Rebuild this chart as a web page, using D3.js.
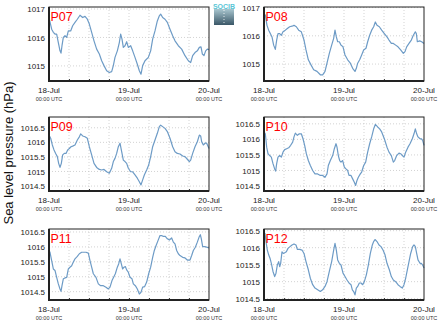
<!DOCTYPE html>
<html><head><meta charset="utf-8">
<script src="https://cdn.jsdelivr.net/npm/d3@7"></script>
<style>
html,body{margin:0;padding:0;background:#fff;}
svg{display:block;font-family:"Liberation Sans",Arial,sans-serif;}
</style></head><body>
<svg id="chart" width="442" height="327"></svg>
<script>
// ---- data (hours since 18-Jul 00:00 UTC, sea level pressure hPa) ----
const stations = ["P07","P08","P09","P10","P11","P12"];
const dayLabels = ["18-Jul","19-Jul","20-Jul"];
const timeLabel = "00:00 UTC";
const yLabel = "Sea level pressure (hPa)";
const yTicksA = [1015,1016,1017];
const yTicksB = [1014.5,1015,1015.5,1016,1016.5];

const hP07 = [0,0.8,1.3,1.8,2.3,2.8,3.3,3.6,3.9,4.3,4.8,5.3,5.8,6.5,7.1,7.8,8.5,9.3,10.1,10.8,11.5,12.1,12.8,13.5,14.3,15.1,15.8,16.5,17.3,18.1,18.8,19.3,19.8,20.5,21.1,21.5,21.9,22.3,22.8,23.3,23.8,24.5,25.1,25.8,26.5,27.1,27.6,28.1,28.8,29.8,30.5,31.1,31.8,32.5,33.1,33.5,34.1,34.8,35.5,36.3,37.1,37.8,38.8,39.8,40.8,41.8,42.5,43.1,43.8,44.5,45.1,45.6,46.0,46.5,47.0,47.5,48.0];
const vP07 = [1016.70,1016.29,1016.18,1016.12,1016.12,1015.82,1015.53,1015.45,1015.71,1016.00,1016.06,1016.00,1016.23,1016.23,1016.41,1016.53,1016.64,1016.78,1016.70,1016.74,1016.64,1016.47,1016.18,1015.88,1015.59,1015.42,1015.18,1015.01,1014.83,1014.77,1014.80,1015.01,1015.30,1015.53,1015.82,1016.12,1015.94,1015.65,1015.71,1015.85,1015.65,1015.71,1015.53,1015.30,1015.06,1014.83,1014.71,1015.01,1015.18,1015.30,1015.53,1015.94,1016.23,1016.58,1016.76,1016.82,1016.70,1016.64,1016.53,1016.29,1016.06,1015.88,1015.71,1015.59,1015.36,1015.18,1015.12,1015.36,1015.47,1015.53,1015.65,1015.67,1015.42,1015.36,1015.53,1015.59,1015.57];

const hP08 = [0,0.4,0.9,1.4,1.9,2.4,2.9,3.4,3.8,4.2,4.7,5.2,5.7,6.4,7.0,7.7,8.4,9.0,9.7,10.4,11.2,12.0,12.6,13.3,14.1,14.9,15.9,16.9,17.6,18.3,18.9,19.6,20.3,20.9,21.3,21.7,22.1,22.6,23.1,23.7,24.3,25.1,25.9,26.6,27.3,27.7,28.1,28.7,29.3,29.9,30.6,31.1,31.7,32.3,32.9,33.4,33.9,34.6,35.3,36.1,36.9,37.5,38.2,38.8,39.5,40.2,41.0,41.8,42.3,42.8,43.5,44.2,44.8,45.4,45.7,46.0,46.7,47.3,48];
const vP08 = [1016.78,1016.73,1016.37,1016.20,1016.08,1015.96,1015.67,1015.52,1015.85,1016.08,1016.08,1016.02,1016.14,1016.20,1016.26,1016.32,1016.34,1016.37,1016.32,1016.20,1016.14,1015.85,1015.50,1015.15,1014.97,1014.80,1014.74,1014.62,1014.62,1014.74,1015.03,1015.38,1015.67,1015.91,1016.20,1015.96,1015.79,1015.79,1015.67,1015.61,1015.32,1015.15,1015.03,1014.85,1014.74,1014.85,1015.03,1015.15,1015.32,1015.50,1015.56,1015.79,1016.02,1016.20,1016.32,1016.49,1016.37,1016.32,1016.20,1016.08,1015.96,1015.85,1015.73,1015.73,1015.67,1015.61,1015.50,1015.38,1015.44,1015.61,1015.73,1015.85,1016.02,1016.14,1016.08,1015.79,1015.82,1015.79,1015.73];

const hP09 = [0,0.5,1.0,1.5,2.0,2.5,2.9,3.3,3.7,4.1,4.6,5.1,5.6,6.1,6.6,7.1,7.8,8.5,9.1,9.5,10.1,10.8,11.5,12.1,12.8,13.5,14.3,15.1,15.8,16.5,17.3,18.1,18.8,19.3,19.8,20.3,20.8,21.3,21.8,22.3,22.8,23.3,23.8,24.5,25.1,25.8,26.5,27.1,27.6,28.1,28.6,29.3,29.9,30.5,31.1,31.8,32.5,33.1,33.5,34.1,34.8,35.5,36.3,37.1,37.8,38.5,39.3,40.1,40.8,41.5,42.1,42.5,43.1,43.8,44.5,45.1,45.5,45.8,46.3,46.8,47.3,48];
const vP09 = [1016.25,1016.14,1015.91,1015.74,1015.62,1015.51,1015.28,1015.14,1015.28,1015.57,1015.62,1015.62,1015.74,1015.79,1015.85,1015.87,1015.91,1016.08,1016.19,1016.29,1016.22,1016.19,1016.14,1015.85,1015.57,1015.28,1015.14,1015.07,1015.05,1015.07,1014.99,1014.94,1015.11,1015.34,1015.45,1015.62,1015.85,1015.97,1015.68,1015.39,1015.34,1015.28,1015.11,1014.99,1014.99,1014.88,1014.77,1014.65,1014.54,1014.71,1014.88,1015.05,1015.22,1015.51,1015.85,1016.08,1016.31,1016.54,1016.59,1016.54,1016.48,1016.37,1016.14,1015.85,1015.68,1015.62,1015.60,1015.53,1015.51,1015.42,1015.34,1015.39,1015.62,1015.85,1016.02,1016.25,1016.22,1016.02,1015.91,1015.97,1015.97,1015.79];

const hP10 = [0,0.4,0.8,1.2,1.7,2.2,2.7,3.2,3.5,3.8,4.2,4.7,5.2,5.7,6.2,6.8,7.4,8.0,8.6,9.0,9.4,10.0,10.6,11.2,11.7,12.2,12.7,13.3,13.9,14.6,15.3,16.1,16.9,17.6,18.3,18.9,19.3,19.9,20.6,21.1,21.6,21.9,22.3,22.7,23.1,23.6,24.1,24.6,25.1,25.5,26.1,26.6,27.1,27.5,27.9,28.3,28.9,29.3,29.9,30.5,31.1,31.7,32.3,32.9,33.4,34.1,34.7,35.3,36.1,36.9,37.5,38.2,38.8,39.2,39.8,40.5,41.0,41.5,42.0,42.5,43.2,43.8,44.5,45.0,45.4,45.8,46.2,46.8,47.2,47.6,48];
const vP10 = [1016.24,1016.18,1015.75,1015.54,1015.48,1015.43,1015.22,1015.05,1014.98,1015.22,1015.43,1015.48,1015.43,1015.59,1015.67,1015.70,1015.73,1015.81,1015.91,1016.08,1016.20,1016.13,1016.18,1016.18,1016.02,1015.81,1015.54,1015.32,1015.16,1015.00,1014.89,1014.89,1014.84,1014.84,1014.78,1014.89,1015.16,1015.32,1015.48,1015.70,1015.86,1015.75,1015.48,1015.32,1015.27,1015.32,1015.11,1015.05,1015.00,1014.84,1014.84,1014.73,1014.62,1014.52,1014.68,1014.78,1014.89,1014.95,1015.16,1015.27,1015.59,1015.86,1016.08,1016.34,1016.48,1016.40,1016.34,1016.24,1016.02,1015.75,1015.59,1015.48,1015.27,1015.32,1015.48,1015.56,1015.54,1015.48,1015.43,1015.59,1015.75,1015.86,1016.02,1016.18,1016.34,1016.18,1016.08,1016.02,1016.02,1015.97,1015.81];

const hP11 = [0,0.3,0.8,1.3,1.8,2.3,2.8,3.3,3.6,3.9,4.3,4.8,5.3,5.8,6.3,6.8,7.3,7.8,8.5,9.1,9.8,10.5,11.1,11.8,12.3,12.8,13.3,14.1,14.8,15.5,16.3,17.1,17.8,18.3,18.9,19.5,19.9,20.5,20.9,21.3,21.7,22.1,22.5,22.9,23.3,23.8,24.3,24.9,25.3,25.9,26.5,27.1,27.6,28.1,28.7,29.3,29.9,30.5,31.1,31.6,32.1,32.7,33.3,33.8,34.3,34.9,35.5,36.1,36.8,37.3,37.8,38.3,38.8,39.3,40.1,40.8,41.5,42.3,42.8,43.3,43.9,44.5,45.0,45.4,45.7,46.1,46.7,47.3,48];
const vP11 = [1015.88,1015.82,1015.54,1015.26,1015.21,1014.98,1014.76,1014.59,1014.51,1014.70,1014.93,1014.96,1014.98,1015.26,1015.32,1015.37,1015.49,1015.60,1015.68,1015.77,1015.82,1015.82,1015.82,1015.79,1015.54,1015.32,1015.10,1014.98,1014.76,1014.70,1014.70,1014.65,1014.59,1014.65,1014.87,1015.01,1015.10,1015.32,1015.43,1015.60,1015.43,1015.26,1015.32,1015.34,1015.23,1015.15,1014.98,1014.93,1014.76,1014.70,1014.59,1014.42,1014.48,1014.65,1014.67,1014.82,1015.10,1015.32,1015.65,1015.88,1016.04,1016.21,1016.38,1016.38,1016.35,1016.35,1016.27,1016.23,1016.30,1016.16,1016.10,1015.88,1015.77,1015.71,1015.65,1015.63,1015.56,1015.56,1015.71,1015.88,1015.99,1016.16,1016.32,1016.41,1016.27,1016.01,1016.01,1015.99,1015.97];

const hP12 = [0,0.3,0.6,1.0,1.4,1.8,2.2,2.7,3.2,3.6,4.0,4.4,4.7,5.0,5.4,5.8,6.2,6.7,7.2,7.8,8.4,9.0,9.6,10.0,10.7,11.4,12.0,12.6,13.3,13.9,14.6,15.3,16.1,16.9,17.6,18.3,18.9,19.6,20.3,20.9,21.3,21.7,22.1,22.6,23.1,23.7,24.3,24.9,25.5,26.1,26.5,26.9,27.3,27.7,28.1,28.6,29.1,29.6,30.1,30.7,31.3,31.9,32.5,32.9,33.3,33.9,34.5,35.1,35.7,36.3,36.9,37.6,38.2,38.8,39.5,40.2,40.8,41.5,42.0,42.5,43.0,43.5,44.0,44.6,45.0,45.4,45.8,46.2,46.8,47.2,47.6,48];
const vP12 = [1016.37,1016.42,1016.18,1015.93,1015.79,1015.69,1015.54,1015.30,1015.15,1015.25,1015.49,1015.59,1015.44,1015.54,1015.88,1015.83,1015.85,1015.88,1015.98,1016.03,1016.08,1016.11,1016.08,1015.95,1015.95,1015.93,1015.83,1015.59,1015.35,1015.10,1014.91,1014.81,1014.76,1014.71,1014.76,1014.86,1015.00,1015.30,1015.59,1015.93,1016.13,1015.93,1015.64,1015.54,1015.49,1015.25,1015.15,1015.05,1014.96,1014.91,1014.76,1014.71,1014.61,1014.81,1014.86,1014.96,1014.96,1014.91,1015.00,1015.20,1015.49,1015.83,1016.08,1016.18,1016.24,1016.18,1016.08,1016.03,1015.93,1015.79,1015.54,1015.35,1015.15,1015.05,1015.00,1014.91,1014.86,1014.81,1014.91,1015.10,1015.35,1015.59,1015.83,1016.03,1016.08,1016.03,1015.83,1015.64,1015.54,1015.54,1015.49,1015.40];

const hours = [hP07,hP08,hP09,hP10,hP11,hP12];
const values = [vP07,vP08,vP09,vP10,vP11,vP12];
const yDomains = [[1014.47,1017.07],[1014.40,1017.02],[1014.33,1016.87],[1014.34,1016.72],[1014.22,1016.60],[1014.46,1016.55]];
const yTickSets = [yTicksA,yTicksA,yTicksB,yTicksB,yTicksB,yTicksB];

// ---- layout ----
const cols = [[49,209],[264,424]];
const rows = [[7,81],[117,191],[229,300]];
const t0 = new Date(Date.UTC(2014,6,18,0,0));
const t1 = new Date(Date.UTC(2014,6,20,0,0));
const dayTicks = [0,1,2].map(d => new Date(Date.UTC(2014,6,18+d)));
const lineColor = "#6d9bc6";

const svg = d3.select("#chart");

stations.forEach((name, i) => {
  const [x0,x1] = cols[i%2];
  const [y0,y1] = rows[Math.floor(i/2)];
  const x = d3.scaleUtc().domain([t0,t1]).range([x0,x1]);
  const y = d3.scaleLinear().domain(yDomains[i]).range([y1,y0]);
  const g = svg.append("g");

  // grid
  const sixH = d3.utcHour.every(6).range(t0, t1).filter(d => +d > +t0);
  g.append("g").selectAll("line").data(sixH).join("line")
    .attr("x1", d => x(d)).attr("x2", d => x(d)).attr("y1", y0).attr("y2", y1)
    .attr("stroke", "#c8c8c8").attr("stroke-width", 0.8).attr("stroke-dasharray", "1,2");
  g.append("g").selectAll("line").data(yTickSets[i]).join("line")
    .attr("x1", x0).attr("x2", x1).attr("y1", d => y(d)).attr("y2", d => y(d))
    .attr("stroke", "#c8c8c8").attr("stroke-width", 0.8).attr("stroke-dasharray", "1,2");

  // x ticks (inward)
  const xAxis = d3.axisTop(x).tickValues(sixH).tickSize(2).tickFormat("");
  g.append("g").attr("transform", `translate(0,${y1})`).call(xAxis)
    .call(s => s.select(".domain").remove())
    .selectAll("line").attr("stroke", "#444");

  // y tick labels
  const yAxis = d3.axisLeft(y).tickValues(yTickSets[i]).tickSize(0).tickPadding(4)
    .tickFormat(d => String(d));
  g.append("g").attr("transform", `translate(${x0},0)`).call(yAxis)
    .call(s => s.select(".domain").remove())
    .selectAll("text").attr("font-size", 8).attr("fill", "#222")
    .attr("font-family", "Liberation Sans, Arial, sans-serif");

  // data line
  const pts = d3.zip(hours[i], values[i]);
  const line = d3.line()
    .x(d => x(new Date(+t0 + d[0]*3600e3)))
    .y(d => y(d[1]));
  g.append("path").datum(pts).attr("d", line)
    .attr("fill", "none").attr("stroke", lineColor).attr("stroke-width", 1.2)
    .attr("stroke-linejoin", "round");

  // frame
  g.append("rect").attr("x", x0).attr("y", y0).attr("width", x1-x0).attr("height", y1-y0)
    .attr("fill", "none").attr("stroke", "#222").attr("stroke-width", 1);
  g.append("path").attr("d", `M${x0},${y0} V${y1} H${x1}`)
    .attr("fill", "none").attr("stroke", "#222").attr("stroke-width", 2);

  // day labels
  const lab = g.append("g").selectAll("g").data(dayTicks).join("g")
    .attr("transform", (d) => `translate(${x(d)},${y1})`);
  lab.append("text").attr("y", 11.5).attr("text-anchor", "middle")
    .attr("font-size", 8).attr("fill", "#222").text((d, k) => dayLabels[k]);
  lab.append("text").attr("y", 19.8).attr("text-anchor", "middle")
    .attr("font-size", 5.5).attr("fill", "#333").text(timeLabel);

  // station label
  g.append("text").attr("x", x0 + 1.5).attr("y", y0 + 13.5)
    .attr("font-size", 12.5).attr("fill", "#ff0000").text(name);
});

// y label
svg.append("text").attr("transform", "translate(12.5,153) rotate(-90)")
  .attr("text-anchor", "middle").attr("font-size", 13).attr("fill", "#111").text(yLabel);

// logo
const defs = svg.append("defs");
const gr = defs.append("linearGradient").attr("id","lg").attr("x1",0).attr("y1",0).attr("x2",0).attr("y2",1);
gr.append("stop").attr("offset","0%").attr("stop-color","#a9c6cf");
gr.append("stop").attr("offset","100%").attr("stop-color","#3a5767");
const logo = svg.append("g").attr("transform","translate(214,3)");
logo.append("rect").attr("x",0).attr("y",6).attr("width",20).attr("height",16).attr("fill","url(#lg)");
logo.append("text").attr("x",10).attr("y",6).attr("text-anchor","middle")
  .attr("font-size",7).attr("font-weight","bold").attr("fill","#59c6d6").text("SOCIB");
logo.append("line").attr("x1",10).attr("x2",10).attr("y1",7).attr("y2",20)
  .attr("stroke","#fff").attr("stroke-width",0.8).attr("stroke-dasharray","1,2");
</script>
</body></html>
